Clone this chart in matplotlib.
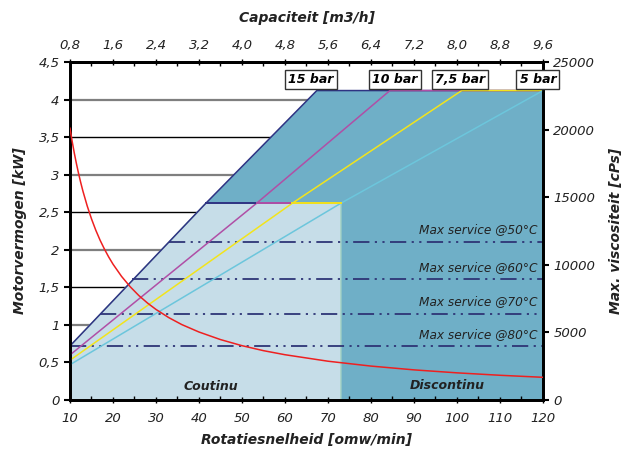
import numpy as np
import matplotlib.pyplot as plt
from matplotlib.ticker import MultipleLocator, FuncFormatter, FixedLocator

# lijnen per druk: toerental [omw/min] -> motorvermogen [kW]
druk_labels = ['15 bar', '10 bar', '7,5 bar', '5 bar']
druk_kleuren = ['#2e3383', '#b04fa6', '#f2e41c', '#6cc6dc']
lijn_x = [[10, 41.6, 67.4, 120],
          [10, 53.4, 84.4, 120],
          [10, 61.7, 101.1, 120],
          [10, 73.0, 120]]
lijn_y = [[0.72, 2.62, 4.12, 4.12],
          [0.60, 2.62, 4.12, 4.12],
          [0.53, 2.62, 4.12, 4.12],
          [0.47, 2.62, 4.12]]
label_x = [66, 85.6, 100.7, 118.8]

# grens continu bedrijf
n_cont = 73.0
p_cont = 2.62

# max service lijnen
service_labels = ['Max service @50°C', 'Max service @60°C', 'Max service @70°C', 'Max service @80°C']
service_p = [2.11, 1.61, 1.15, 0.72]
service_start = [33.0, 24.5, 17.0, 10.0]

# maximale viscositeit [cPs]
visc_n = [10, 10.5, 11, 11.5, 12, 12.5, 13, 14, 15, 16, 17, 18, 19, 20, 22, 24, 26, 28, 30,
          33, 36, 40, 45, 50, 55, 60, 70, 80, 90, 100, 110, 120]
visc_v = [20100, 19140, 18270, 17480, 16750, 16080, 15460, 14360, 13400, 12560, 11820, 11170,
          10580, 10050, 9140, 8380, 7730, 7180, 6700, 6090, 5580, 5030, 4470, 4020, 3650,
          3350, 2870, 2510, 2230, 2010, 1830, 1680]

tekst = '#222222'
plt.rcParams['font.family'] = 'DejaVu Sans'

fig = plt.figure(figsize=(6.26, 4.54), dpi=100)
ax = fig.add_axes([0.1118, 0.1189, 0.7556, 0.7445])
ax.set_xlim(10, 120)
ax.set_ylim(0, 4.5)

# horizontale hulplijnen
for p in np.arange(0.5, 4.01, 0.5):
    if p % 1 == 0:
        ax.axhline(p, color='#7f7f7f', lw=1.6, zorder=0.5)
    else:
        ax.axhline(p, color='black', lw=1.0, zorder=0.5)

# gebieden
nx, ny = lijn_x[0], lijn_y[0]
ax.fill(nx + [120, 10], ny + [0, 0], color='#6fafc7', lw=0, zorder=1)
ax.fill([10, nx[0], nx[1], n_cont, n_cont], [0, ny[0], p_cont, p_cont, 0],
        facecolor='#c6dde8', edgecolor='#a6d4c4', lw=1, zorder=1.1)

# druklijnen
for xs, ys, c in zip(lijn_x, lijn_y, druk_kleuren):
    ax.plot(xs, ys, color=c, lw=1.1, zorder=3)
for xs, c in zip(lijn_x, druk_kleuren):
    ax.plot([xs[1], n_cont], [p_cont, p_cont], color=c, lw=1.4, zorder=3)

# max service
for lab, p, x0 in zip(service_labels, service_p, service_start):
    ax.plot([x0, 120], [p, p], color='#2e3576', lw=1.3, dashes=(9, 3, 1.2, 3, 1.2, 3), zorder=2.5)
    ax.text(118.8, p + 0.07, lab, ha='right', va='bottom', fontsize=8.7, style='italic',
            color=tekst, zorder=4)

ax.text(42.8, 0.18, 'Coutinu', ha='center', va='center', fontsize=9, style='italic',
        fontweight='bold', color=tekst, zorder=4)
ax.text(97.8, 0.19, 'Discontinu', ha='center', va='center', fontsize=9, style='italic',
        fontweight='bold', color=tekst, zorder=4)

# assen
komma = FuncFormatter(lambda v, pos: f'{v:g}'.replace('.', ','))
ax.xaxis.set_major_locator(MultipleLocator(10))
ax.xaxis.set_minor_locator(MultipleLocator(5))
ax.yaxis.set_major_locator(MultipleLocator(0.5))
ax.yaxis.set_major_formatter(komma)
ax.tick_params(axis='x', which='major', direction='inout', length=5, width=1, pad=6)
ax.tick_params(axis='x', which='minor', direction='in', length=3, width=1)
ax.tick_params(axis='y', direction='out', length=4, width=1.5)
ax.tick_params(labelsize=9.5, labelcolor=tekst)
for t in ax.get_xticklabels() + ax.get_yticklabels():
    t.set_style('italic')
for s in ax.spines.values():
    s.set_linewidth(2)

ax.set_xlabel('Rotatiesnelheid [omw/min]', fontsize=10, style='italic', fontweight='bold',
              color=tekst, labelpad=6)
ax.set_ylabel('Motorvermogen [kW]', fontsize=10, style='italic', fontweight='bold',
              color=tekst, labelpad=8)

# capaciteit boven
top = ax.secondary_xaxis('top', functions=(lambda n: n * 0.08, lambda q: q / 0.08))
top.xaxis.set_major_locator(FixedLocator(np.arange(0.8, 9.61, 0.8)))
top.xaxis.set_minor_locator(FixedLocator(np.arange(1.2, 9.5, 0.8)))
top.xaxis.set_major_formatter(FuncFormatter(lambda v, pos: f'{v:.1f}'.replace('.', ',')))
top.tick_params(which='major', direction='inout', length=5, width=1, labelsize=9.5,
                labelcolor=tekst, pad=5)
top.tick_params(which='minor', direction='in', length=3, width=1)
for t in top.get_xticklabels():
    t.set_style('italic')
top.spines['top'].set_linewidth(2)
top.set_xlabel('Capaciteit [m3/h]', fontsize=10, style='italic', fontweight='bold',
               color=tekst, labelpad=12)

# viscositeit rechts
ax2 = ax.twinx()
ax2.set_ylim(0, 25000)
ax2.plot(visc_n, visc_v, color='#ee2020', lw=1.1, zorder=3)
ax2.yaxis.set_major_locator(MultipleLocator(5000))
ax2.tick_params(axis='y', direction='out', length=4, width=1.5, labelsize=9.5, labelcolor=tekst)
for t in ax2.get_yticklabels():
    t.set_style('italic')
for s in ax2.spines.values():
    s.set_linewidth(2)
ax2.set_ylabel('Max. viscositeit [cPs]', fontsize=10, style='italic', fontweight='bold',
               color=tekst, labelpad=10)

# druk labels
for lab, x in zip(druk_labels, label_x):
    ax2.text(x, 4.27, lab, transform=ax.transData, ha='center', va='center', fontsize=9,
             style='italic', fontweight='bold', color='black', clip_on=False, zorder=10,
             bbox=dict(boxstyle='square,pad=0.25', fc='white', ec='#333333', lw=1))

fig.savefig('out.png', dpi=100)
